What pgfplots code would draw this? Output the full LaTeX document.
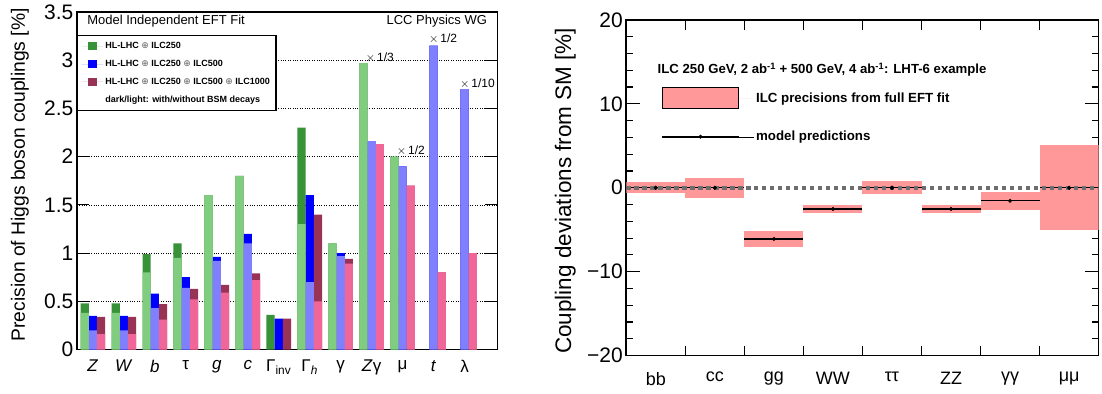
\documentclass[border=0pt]{standalone}
\usepackage{pgfplots}
\pgfplotsset{compat=1.18}
\usepackage{fontspec}
\setmainfont{Liberation Sans}
\newfontfamily\dejavu{DejaVu Sans}
\definecolor{dgreen}{RGB}{56,146,56}
\definecolor{lgreen}{RGB}{128,205,128}
\definecolor{dblue}{RGB}{0,0,255}
\definecolor{lblue}{RGB}{128,128,255}
\definecolor{dred}{RGB}{153,51,85}
\definecolor{lred}{RGB}{240,102,153}
\definecolor{boxpink}{RGB}{255,153,153}
\definecolor{dashgray}{RGB}{110,110,110}
\definecolor{oplusgray}{RGB}{95,95,95}
\newcommand{\op}{\textcolor{oplusgray}{\dejavu\mdseries ⊕}}
\begin{document}
\begin{tikzpicture}[x=1pt,y=1pt]
\path (0,0) rectangle (1102,394);
% ---------------- left panel ----------------
\begin{axis}[
  at={(77pt,44pt)}, anchor=south west, scale only axis,
  width=421pt, height=338pt,
  xmin=-0.516, xmax=13.06, ymin=0, ymax=3.5,
  xtick={0,...,12},
  xticklabels={\textit{Z},\textit{W},\textit{b},τ,\textit{g},\textit{c},Γ\textsubscript{inv},Γ\textsubscript{\textit{h}},γ,\textit{Z}γ,μ,\textit{t},λ},
  x tick label style={font=\fontsize{17}{17}\selectfont, yshift=-7pt},
  xtick style={draw=none},
  ytick={0,0.5,...,3.5},
  yticklabels={0,0.5,1,1.5,2,2.5,3,3.5},
  y tick label style={font=\fontsize{21}{21}\selectfont},
  ytick style={/pgfplots/major tick length=12pt, line width=1.2pt, black},
  ymajorgrids, grid style={black, dotted, line width=0.6pt},
  axis line style={line width=1.6pt},
  legend style={at={(0,0.932)}, anchor=north west, draw=black, line width=1.2pt,
    fill=white, font=\bfseries\fontsize{9}{10.5}\selectfont, row sep=6pt,
    inner xsep=4pt, inner ysep=5pt},
  legend cell align=left,
  legend image code/.code={\path (0pt,0pt) -- (22pt,0pt); \path[fill] (7pt,-4pt) rectangle (16pt,4pt);},
]
\addplot[ybar, bar width=0.265, bar shift=-0.265, fill=dgreen, draw=none] coordinates {
 (0,0.48) (1,0.48) (2,0.99) (3,1.10) (4,1.60) (5,1.80) (6,0.36) (7,2.30) (8,1.10) (9,2.97) (10,2.00)};
\addlegendentry{HL-LHC \op{} ILC250}
\addplot[ybar, bar width=0.265, bar shift=0, fill=dblue, draw=none] coordinates {
 (0,0.35) (1,0.35) (2,0.58) (3,0.75) (4,0.96) (5,1.20) (6,0.32) (7,1.60) (8,1.00) (9,2.16) (10,1.90) (11,3.15) (12,2.70)};
\addlegendentry{HL-LHC \op{} ILC250 \op{} ILC500}
\addplot[ybar, bar width=0.265, bar shift=0.265, fill=dred, draw=none] coordinates {
 (0,0.34) (1,0.34) (2,0.47) (3,0.63) (4,0.67) (5,0.79) (6,0.32) (7,1.40) (8,0.94) (9,2.13) (10,1.70) (11,0.80) (12,1.00)};
\addlegendentry{HL-LHC \op{} ILC250 \op{} ILC500 \op{} ILC1000\hspace{20pt}}
\addlegendimage{empty legend}
\addlegendentry{dark/light: with/without BSM decays}
\addplot[ybar, bar width=0.265, bar shift=-0.265, fill=lgreen, draw=none, forget plot] coordinates {
 (0,0.38) (1,0.38) (2,0.80) (3,0.95) (4,1.60) (5,1.80) (7,1.30) (8,1.10) (9,2.97) (10,2.00)};
\addplot[ybar, bar width=0.265, bar shift=0, fill=lblue, draw=none, forget plot] coordinates {
 (0,0.20) (1,0.20) (2,0.43) (3,0.64) (4,0.92) (5,1.10) (7,0.70) (8,0.97) (9,2.16) (10,1.90) (11,3.15) (12,2.70)};
\addplot[ybar, bar width=0.265, bar shift=0.265, fill=lred, draw=none, forget plot] coordinates {
 (0,0.16) (1,0.16) (2,0.31) (3,0.52) (4,0.59) (5,0.72) (7,0.50) (8,0.89) (9,2.13) (10,1.70) (11,0.80) (12,1.00)};
\node[anchor=west, font=\fontsize{12}{12}\selectfont] at (axis cs:8.70,3.03) {$\times$\,1/3};
\node[anchor=west, font=\fontsize{12}{12}\selectfont] at (axis cs:9.70,2.06) {$\times$\,1/2};
\node[anchor=west, font=\fontsize{12}{12}\selectfont] at (axis cs:10.74,3.22) {$\times$\,1/2};
\node[anchor=west, font=\fontsize{12}{12}\selectfont] at (axis cs:11.74,2.76) {$\times$\,1/10};
\end{axis}
\node[anchor=west, font=\fontsize{13}{13}\selectfont] at (84,373) {Model Independent EFT Fit};
\node[anchor=east, font=\fontsize{13}{13}\selectfont] at (491,373) {LCC Physics WG};
\node[rotate=90, font=\fontsize{19.3}{19.3}\selectfont] at (20,219) {Precision of Higgs boson couplings [\%]};
% ---------------- right panel ----------------
\begin{axis}[
  at={(627pt,38pt)}, anchor=south west, scale only axis,
  width=473pt, height=336pt,
  xmin=0, xmax=8, ymin=-20, ymax=20,
  xtick={0,...,8}, xticklabels={},
  xtick style={/pgfplots/major tick length=10pt, line width=1.2pt, black},
  extra x ticks={0.5,1.5,...,7.5},
  extra x tick labels={bb,cc,gg,WW,ττ,ZZ,γγ,μμ},
  extra x tick style={xtick style={draw=none}, tick label style={font=\fontsize{18}{18}\selectfont, yshift=-13pt}},
  ytick={-20,-10,0,10,20},
  yticklabels={−20,−10,0,10,20},
  minor y tick num=4,
  y tick label style={font=\fontsize{21}{21}\selectfont},
  ytick style={/pgfplots/major tick length=14pt, /pgfplots/minor tick length=7pt, line width=1.2pt, black},
  axis line style={line width=1.6pt},
  legend style={at={(0.074,0.80)}, anchor=north west, draw=none, fill=none,
    font=\bfseries\fontsize{13.3}{15}\selectfont, row sep=20pt, inner sep=0pt},
  legend cell align=left,
]
\addplot[fill=boxpink, draw=none,
  legend image code/.code={\path (0pt,0pt) -- (92pt,0pt); \draw[fill=boxpink, draw=black, line width=0.9pt] (0pt,-10.5pt) rectangle (77pt,10.5pt);}]
  coordinates {(0,-0.65) (1,-0.65) (1,0.65) (0,0.65)} -- cycle;
\addlegendentry{ILC precisions from full EFT fit}
\addplot[fill=boxpink, draw=none, forget plot] coordinates {(1,-1.2) (2,-1.2) (2,1.2) (1,1.2)} -- cycle;
\addplot[fill=boxpink, draw=none, forget plot] coordinates {(2,-7.05) (3,-7.05) (3,-5.15) (2,-5.15)} -- cycle;
\addplot[fill=boxpink, draw=none, forget plot] coordinates {(3,-2.97) (4,-2.97) (4,-2.1) (3,-2.1)} -- cycle;
\addplot[fill=boxpink, draw=none, forget plot] coordinates {(4,-0.8) (5,-0.8) (5,0.8) (4,0.8)} -- cycle;
\addplot[fill=boxpink, draw=none, forget plot] coordinates {(5,-2.97) (6,-2.97) (6,-2.1) (5,-2.1)} -- cycle;
\addplot[fill=boxpink, draw=none, forget plot] coordinates {(6,-2.65) (7,-2.65) (7,-0.48) (6,-0.48)} -- cycle;
\addplot[fill=boxpink, draw=none, forget plot] coordinates {(7,-5.05) (8,-5.05) (8,5.05) (7,5.05)} -- cycle;
\addplot[black, only marks, mark=*, mark size=1.8pt,
  legend image code/.code={\path (0pt,0pt) -- (92pt,0pt); \draw[black, line width=1.2pt] (0pt,0pt) -- (77pt,0pt); \fill[black] (38.5pt,0pt) circle (1.8pt);},
  error bars/.cd, x dir=both, x explicit, error mark=none, error bar style={line width=1.2pt, black},
  ]
  table[x=x, y=y, x error=e] {
x y e
0.5 0 0.5
1.5 0 0.5
2.5 -6.1 0.5
3.5 -2.53 0.5
4.5 0 0.5
5.5 -2.53 0.5
6.5 -1.55 0.5
7.5 0 0.5
};
\addlegendentry{model predictions}
\addplot[dashgray, line width=3.6pt, dash pattern=on 4.4pt off 3.6pt, forget plot] coordinates {(0,0) (8,0)};
\addplot[black, only marks, mark=*, mark size=1.8pt, forget plot] coordinates {(0.5,0) (1.5,0) (4.5,0) (7.5,0)};
\end{axis}
\node[anchor=west, font=\bfseries\fontsize{13.2}{15}\selectfont] at (655,324) {ILC 250 GeV, 2 ab\textsuperscript{-1} + 500 GeV, 4 ab\textsuperscript{-1}: LHT-6 example};
\node[rotate=90, font=\fontsize{22.5}{22.5}\selectfont] at (566,203) {Coupling deviations from SM [\%]};
\end{tikzpicture}
\end{document}
